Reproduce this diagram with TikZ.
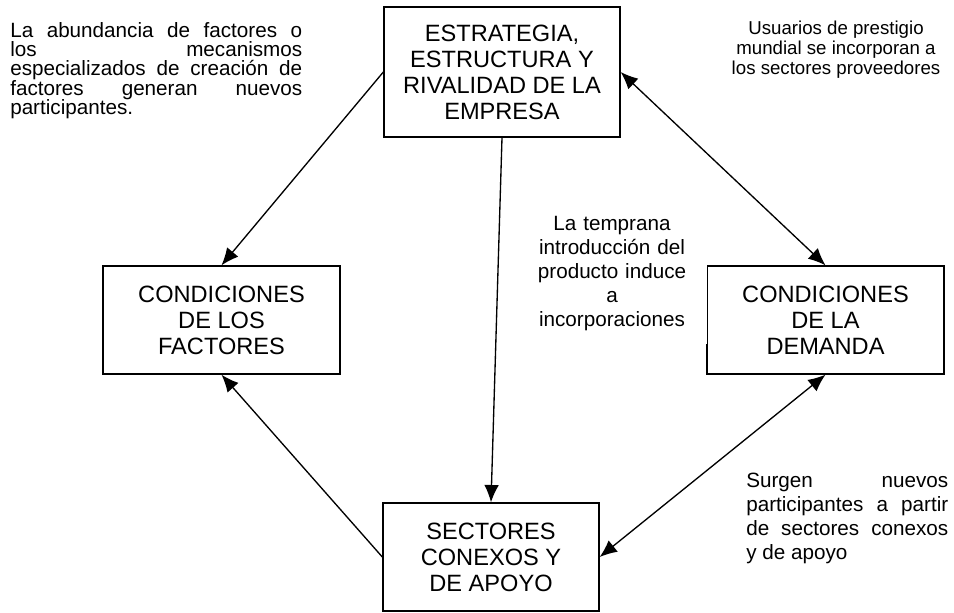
\documentclass[tikz,border=0pt]{standalone}
\usepackage{fontspec}
\setmainfont{Liberation Sans}
\usetikzlibrary{arrows.meta}

\begin{document}
\begin{tikzpicture}[x=0.75pt,y=-0.75pt,
  caja/.style={draw, line width=1pt, align=center, inner sep=0pt,
    font=\fontsize{17.7}{19.5}\selectfont},
  nota/.style={inner sep=0pt, font=\fontsize{15.5}{18}\selectfont},
  flecha/.style={-{Latex[length=13pt,width=11pt]}, line width=1pt},
  dflecha/.style={{Latex[length=13pt,width=11pt]}-{Latex[length=13pt,width=11pt]}, line width=1pt}]
  % Marco de la figura
  \useasboundingbox (0,0) rectangle (954,612);

  % Los cuatro determinantes
  \node[caja, minimum width=177pt, minimum height=97.5pt] (estrategia) at (502,72)
    {ESTRATEGIA,\\ESTRUCTURA Y\\RIVALIDAD DE LA\\EMPRESA};
  \node[caja, minimum width=177.75pt, minimum height=81pt] (factores) at (221.5,320)
    {CONDICIONES\\DE LOS\\FACTORES};
  \node[caja, minimum width=177.75pt, minimum height=81pt] (demanda) at (825.5,320)
    {CONDICIONES\\DE LA\\DEMANDA};
  \node[caja, minimum width=162pt, minimum height=81pt] (sectores) at (491,557)
    {SECTORES\\CONEXOS Y\\DE APOYO};

  % Relaciones entre determinantes
  \draw[flecha] (estrategia.west) -- (factores.north);
  \draw[dflecha] (estrategia.east) -- (demanda.north);
  \draw[flecha] (estrategia.south) -- (sectores.north);
  \draw[flecha] (sectores.west) -- (factores.south);
  \draw[dflecha] (demanda.south) -- (sectores.east);

  % Comentarios
  \node[nota, anchor=north west, text width=219pt, align=justify,
    font=\fontsize{15.5}{14.5}\selectfont] (abundancia) at (10,22)
    {La abundancia de factores o\linebreak los mecanismos\linebreak especializados de creaci\'on de\linebreak factores generan nuevos\linebreak participantes.};
  \node[nota, align=center, font=\fontsize{14}{15}\selectfont] (usuarios) at (836,50)
    {Usuarios de prestigio\\mundial se incorporan a\\los sectores proveedores};
  \node[nota, fill=white, text width=142.5pt, minimum height=105.75pt, align=center] (temprana) at (612,273.5)
    {La temprana\\introducci\'on del\\producto induce\\a\\incorporaciones};
  \node[nota, anchor=north west, text width=151.5pt, align=justify] (surgen) at (746,473)
    {Surgen nuevos\linebreak participantes a partir\linebreak de sectores conexos\linebreak y de apoyo};
\end{tikzpicture}
\end{document}
